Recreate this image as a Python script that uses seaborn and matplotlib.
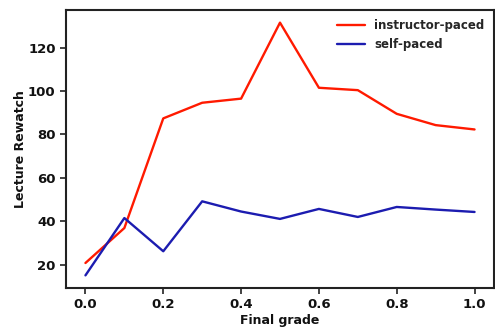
import matplotlib
matplotlib.use("Agg")
import matplotlib.pyplot as plt
import seaborn as sns
import pandas as pd

grades = [0.0, 0.1, 0.2, 0.3, 0.4, 0.5, 0.6, 0.7, 0.8, 0.9, 1.0]
instructor_paced = [20.8, 36.9, 87.4, 94.6, 96.5, 131.5, 101.5, 100.4, 89.5, 84.3, 82.3]
self_paced = [15.1, 41.5, 26.2, 49.2, 44.5, 41.1, 45.7, 42.0, 46.6, 45.4, 44.3]
series_names = ["instructor-paced", "self-paced"]

df = pd.concat([
    pd.DataFrame({"Final grade": grades, "Lecture Rewatch": instructor_paced, "group": series_names[0]}),
    pd.DataFrame({"Final grade": grades, "Lecture Rewatch": self_paced, "group": series_names[1]}),
])

sns.set_style("ticks")
plt.rcParams['font.family'] = ['DejaVu Sans']
plt.rcParams['font.weight'] = 'bold'
plt.rcParams['axes.labelweight'] = 'bold'

fig = plt.figure(figsize=(4.95, 3.3), dpi=100)
ax = fig.add_axes([66/495, 1-288/330, (494-66)/495, (288-10)/330])
sns.lineplot(data=df, x="Final grade", y="Lecture Rewatch", hue="group",
             palette={"instructor-paced": "#ff1a00", "self-paced": "#1c1cb0"},
             linewidth=1.7, ax=ax)
ax.set_xticks([0.0, 0.2, 0.4, 0.6, 0.8, 1.0])
ax.set_yticks([20, 40, 60, 80, 100, 120])
ax.tick_params(labelsize=9.5, width=1.2, length=4, color="#222222", labelcolor="#111111")
for s in ax.spines.values():
    s.set_linewidth(1.5)
    s.set_color("#222222")
ax.set_xlabel("Final grade", fontsize=9, fontweight="bold", color="#111111", labelpad=2)
ax.set_ylabel("Lecture Rewatch", fontsize=9, fontweight="bold", color="#111111", labelpad=1)
leg = ax.legend(loc="upper right", frameon=False, fontsize=8.5, handlelength=2.4,
                borderaxespad=0.4)
fig.savefig("out.png", dpi=100)
